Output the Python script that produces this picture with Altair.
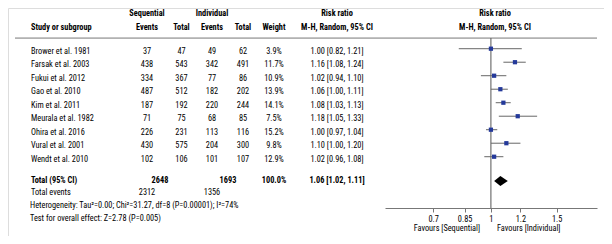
import altair as alt
import pandas as pd

# ---- data ----
studies = ["Brower et al. 1981", "Farsak et al. 2003", "Fukui et al. 2012", "Gao et al. 2010",
           "Kim et al. 2011", "Meurala et al. 1982", "Ohira et al. 2016", "Vural et al. 2001",
           "Wendt et al. 2010"]
seq_events = [37, 438, 334, 487, 187, 71, 226, 430, 102]
seq_total = [47, 543, 367, 512, 192, 75, 231, 575, 106]
ind_events = [49, 342, 77, 182, 220, 68, 113, 204, 101]
ind_total = [62, 491, 86, 202, 244, 85, 116, 300, 107]
weights = ["3.9%", "11.7%", "10.9%", "13.9%", "14.1%", "7.5%", "15.2%", "9.8%", "12.9%"]
rr = [1.00, 1.16, 1.02, 1.06, 1.08, 1.18, 1.00, 1.10, 1.02]
rr_lo = [0.82, 1.08, 0.94, 1.00, 1.03, 1.05, 0.97, 1.00, 0.96]
rr_hi = [1.21, 1.24, 1.10, 1.11, 1.13, 1.33, 1.04, 1.20, 1.08]
total_rr, total_lo, total_hi = 1.06, 1.02, 1.11
total_seq_n, total_ind_n, total_weight = 2648, 1693, "100.0%"
total_seq_events, total_ind_events = 2312, 1356
het_text = "Heterogeneity: Tau\u00b2=0.00; Chi\u00b2=31.27, df=8 (P=0.00001); I\u00b2=74%"
test_text = "Test for overall effect: Z=2.78 (P=0.005)"
ticks = [0.7, 0.85, 1, 1.2, 1.5]

# ---- layout (row units, pixel columns) ----
W, H = 596, 228
HEAD1, HEAD2, HLINE = -2.79, -1.76, -1.01
TOTAL, TEVENTS, HET, TEST = 9.58, 10.44, 11.41, 12.39
AXIS_Y, FAV = 11.58, 13.13
FONT = "Roboto Condensed, DejaVu Sans Condensed, sans-serif"
FS = 8.3

rows = pd.DataFrame({
    "row": list(range(len(studies))),
    "study": studies,
    "se": seq_events, "st": seq_total, "ie": ind_events, "it": ind_total,
    "w": weights, "rr": rr, "lo": rr_lo, "hi": rr_hi,
})
rows["ci"] = [f"{a:.2f} [{b:.2f}, {c:.2f}]" for a, b, c in zip(rr, rr_lo, rr_hi)]

yscale = alt.Scale(domain=[-3.237, 13.65], reverse=True)
xscale = alt.Scale(type="log", domain=[0.52, 1.925], range=[377, 589])
Y = lambda f: alt.Y(f, type="quantitative", scale=yscale, axis=None)

def col_text(field, x, align="center", bold=False, data=rows, yfield="row"):
    return alt.Chart(data).mark_text(
        align=align, baseline="middle", font=FONT, fontSize=FS,
        fontWeight="bold" if bold else "normal", color="black"
    ).encode(x=alt.value(x), y=Y(yfield), text=alt.Text(field))

layers = []
# table body
layers += [
    col_text("study:N", 23, align="left"),
    col_text("se:Q", 139), col_text("st:Q", 173.5),
    col_text("ie:Q", 204), col_text("it:Q", 235),
    col_text("w:N", 266), col_text("ci:N", 329),
]

# header and footer texts
misc = pd.DataFrame([
    ("Sequential", 139, HEAD1, "center", "bold"),
    ("Individual", 204, HEAD1, "center", "bold"),
    ("Risk ratio", 329, HEAD1, "center", "bold"),
    ("Risk ratio", 487, HEAD1, "center", "bold"),
    ("Study or subgroup", 23, HEAD2, "left", "bold"),
    ("Events", 139, HEAD2, "center", "bold"),
    ("Total", 173.5, HEAD2, "center", "bold"),
    ("Events", 204, HEAD2, "center", "bold"),
    ("Total", 235, HEAD2, "center", "bold"),
    ("Weight", 266, HEAD2, "center", "bold"),
    ("M-H, Random, 95% CI", 329, HEAD2, "center", "bold"),
    ("M-H, Random, 95% CI", 487, HEAD2, "center", "bold"),
    ("Total (95% CI)", 23, TOTAL, "left", "bold"),
    (str(total_seq_n), 152, TOTAL, "center", "bold"),
    (str(total_ind_n), 220, TOTAL, "center", "bold"),
    (total_weight, 266, TOTAL, "center", "bold"),
    (f"{total_rr:.2f} [{total_lo:.2f}, {total_hi:.2f}]", 329, TOTAL, "center", "bold"),
    ("Total events", 23, TEVENTS, "left", "normal"),
    (str(total_seq_events), 139, TEVENTS, "center", "normal"),
    (str(total_ind_events), 204, TEVENTS, "center", "normal"),
    (het_text, 22, HET, "left", "normal"),
    (test_text, 22, TEST, "left", "normal"),
    ("Favours [Sequential]", 472, FAV, "right", "normal"),
    ("Favours [Individual]", 489, FAV, "left", "normal"),
], columns=["text", "px", "y", "align", "weight"])

for (al, wt), g in misc.groupby(["align", "weight"]):
    layers.append(
        alt.Chart(g).mark_text(align=al, baseline="middle", font=FONT, fontSize=FS,
                               fontWeight=wt, color="black")
        .encode(x=alt.X("px:Q", scale=None), y=Y("y"), text="text:N")
    )

# header line
layers.append(
    alt.Chart(pd.DataFrame({"y": [HLINE]})).mark_rule(color="#777", strokeWidth=1)
    .encode(x=alt.value(7), x2=alt.value(589), y=Y("y"))
)

# forest plot
base_x = alt.X("rr:Q", scale=xscale,
               axis=alt.Axis(values=ticks, format="~g", offset=-28, title=None,
                             grid=False, domainColor="#777", tickColor="#777",
                             tickSize=4, labelFont=FONT, labelFontSize=FS,
                             labelColor="black", labelPadding=2))

line_df = pd.DataFrame({"x": [1.0], "y1": [HLINE], "y2": [AXIS_Y]})
layers.append(
    alt.Chart(line_df).mark_rule(color="#555", strokeWidth=1)
    .encode(x=alt.X("x:Q", scale=xscale), y=Y("y1"), y2="y2:Q")
)
layers.append(
    alt.Chart(rows).mark_rule(color="#666", strokeWidth=1, yOffset=-3)
    .encode(x=alt.X("lo:Q", scale=xscale), x2="hi:Q", y=Y("row"))
)
layers.append(
    alt.Chart(rows).mark_square(color="#24399a", opacity=1, size=18, yOffset=-3)
    .encode(x=base_x, y=Y("row"))
)

half = 0.37
dia = pd.DataFrame({
    "x": [total_lo, total_rr, total_hi],
    "y": [TOTAL, TOTAL - half, TOTAL],
    "y2": [TOTAL, TOTAL + half, TOTAL],
})
layers.append(
    alt.Chart(dia).mark_area(color="black", opacity=1)
    .encode(x=alt.X("x:Q", scale=xscale), y=Y("y"), y2="y2:Q")
)

chart = alt.layer(*layers).properties(
    width=W, height=H, padding=0, autosize=alt.AutoSizeParams(type="none")
).configure_view(stroke="#888", strokeWidth=1.5).configure(background="white")

chart.save("out.html", embed_options={"renderer": "svg", "actions": False})
